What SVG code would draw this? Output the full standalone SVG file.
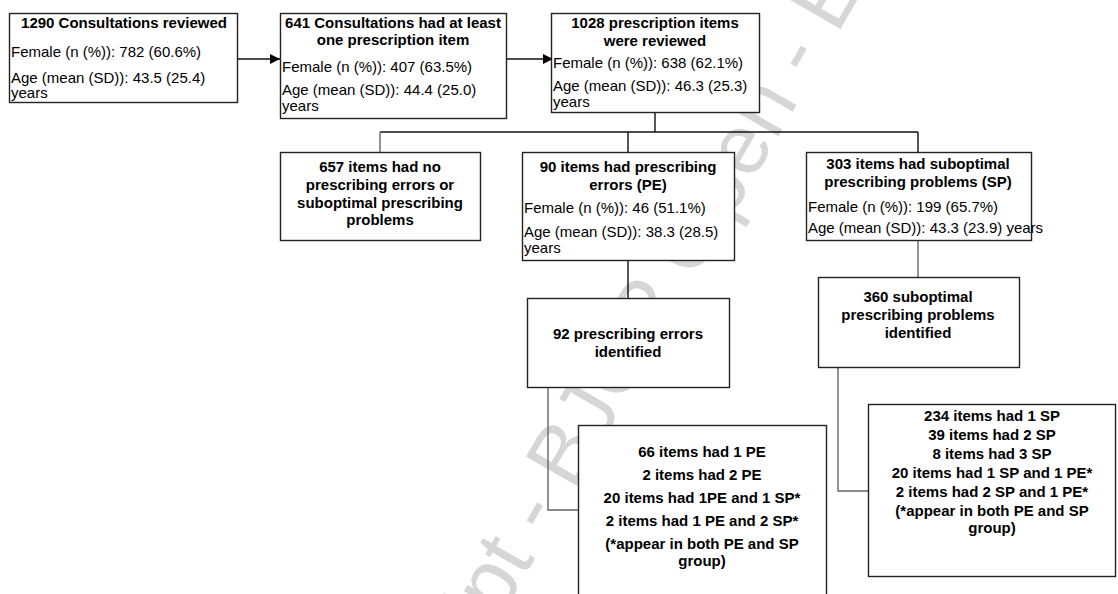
<svg xmlns="http://www.w3.org/2000/svg" width="1118" height="594" viewBox="0 0 1118 594">
<defs>
<marker id="arr" viewBox="0 0 10 10" refX="10" refY="5" markerWidth="10" markerHeight="10" markerUnits="userSpaceOnUse" orient="auto">
<path d="M0,0 L10,5 L0,10 z" fill="#000"/>
</marker>
</defs>
<style>
.box{fill:#fff;stroke:#222;stroke-width:1.4}
.t{font-family:"Liberation Sans",Arial,sans-serif;font-size:15px;fill:#000}
.b{font-weight:bold;text-anchor:middle}
.ln{fill:none;stroke:#111;stroke-width:1.4}
.gl{fill:none;stroke:#666;stroke-width:1.4}
.wm{font-family:"Liberation Sans",Arial,sans-serif;font-size:85px;fill:#d6d6d6}
</style>
<rect width="1118" height="594" fill="#fff"/>
<text class="wm" transform="translate(554 525) rotate(-60)" x="-831" y="0">Accepted Manuscript - BJGP Open - E</text>

<g id="connectors">
<line class="ln" x1="237" y1="59" x2="280" y2="59" marker-end="url(#arr)"/>
<line class="ln" x1="503" y1="59" x2="553" y2="59" marker-end="url(#arr)"/>
<line class="ln" x1="655" y1="113" x2="655" y2="132"/>
<line class="ln" x1="380" y1="132" x2="918" y2="132"/>
<line class="gl" x1="380" y1="132" x2="380" y2="152"/>
<line class="ln" x1="628" y1="132" x2="628" y2="152"/>
<line class="ln" x1="918" y1="132" x2="918" y2="152"/>
<line class="ln" x1="628" y1="261" x2="628" y2="298"/>
<line class="gl" x1="918" y1="240" x2="918" y2="277"/>
<polyline class="gl" points="548,387 548,510 578,510"/>
<polyline class="gl" points="838,367 838,491 868,491"/>
</g>

<g id="n1">
<rect class="box" x="9.5" y="13.5" width="228" height="89"/>
<text class="t b" x="124" y="28">1290 Consultations reviewed</text>
<text class="t" x="11" y="57">Female (n (%)): 782 (60.6%)</text>
<text class="t" x="11" y="83">Age (mean (SD)): 43.5 (25.4)</text>
<text class="t" x="11" y="98">years</text>
</g>

<g id="n2">
<rect class="box" x="280.5" y="13.5" width="226" height="105"/>
<text class="t b" x="393" y="28">641 Consultations had at least</text>
<text class="t b" x="393" y="45">one prescription item</text>
<text class="t" x="282" y="72">Female (n (%)): 407 (63.5%)</text>
<text class="t" x="282" y="95">Age (mean (SD)): 44.4 (25.0)</text>
<text class="t" x="282" y="111">years</text>
</g>

<g id="n3">
<rect class="box" x="551.5" y="13.5" width="208" height="99"/>
<text class="t b" x="655" y="28">1028 prescription items</text>
<text class="t b" x="655" y="46">were reviewed</text>
<text class="t" x="553" y="68">Female (n (%)): 638 (62.1%)</text>
<text class="t" x="553" y="91">Age (mean (SD)): 46.3 (25.3)</text>
<text class="t" x="553" y="107">years</text>
</g>

<g id="n4">
<rect class="box" x="280.5" y="152.5" width="200" height="88"/>
<text class="t b" x="380" y="172">657 items had no</text>
<text class="t b" x="380" y="190">prescribing errors or</text>
<text class="t b" x="380" y="208">suboptimal prescribing</text>
<text class="t b" x="380" y="225">problems</text>
</g>

<g id="n5">
<rect class="box" x="522.5" y="152.5" width="212" height="108"/>
<text class="t b" x="628" y="172">90 items had prescribing</text>
<text class="t b" x="628" y="190">errors (PE)</text>
<text class="t" x="524" y="213">Female (n (%)): 46 (51.1%)</text>
<text class="t" x="524" y="237">Age (mean (SD)): 38.3 (28.5)</text>
<text class="t" x="524" y="253">years</text>
</g>

<g id="n6">
<rect class="box" x="806.5" y="152.5" width="225" height="88"/>
<text class="t b" x="918" y="169">303 items had suboptimal</text>
<text class="t b" x="918" y="187">prescribing problems (SP)</text>
<text class="t" x="808" y="212">Female (n (%)): 199 (65.7%)</text>
<text class="t" x="808" y="233">Age (mean (SD)): 43.3 (23.9) years</text>
</g>

<g id="n7">
<rect class="box" x="527.5" y="298.5" width="202" height="89"/>
<text class="t b" x="628" y="339">92 prescribing errors</text>
<text class="t b" x="628" y="357">identified</text>
</g>

<g id="n8">
<rect class="box" x="818.5" y="277.5" width="201" height="90"/>
<text class="t b" x="918" y="302">360 suboptimal</text>
<text class="t b" x="918" y="320">prescribing problems</text>
<text class="t b" x="918" y="338">identified</text>
</g>

<g id="n9">
<rect class="box" x="578.5" y="425.5" width="248" height="175"/>
<text class="t b" x="702" y="457">66 items had 1 PE</text>
<text class="t b" x="702" y="480">2 items had 2 PE</text>
<text class="t b" x="702" y="503">20 items had 1PE and 1 SP*</text>
<text class="t b" x="702" y="526">2 items had 1 PE and 2 SP*</text>
<text class="t b" x="702" y="549">(*appear in both PE and SP</text>
<text class="t b" x="702" y="566">group)</text>
</g>

<g id="n10">
<rect class="box" x="868.5" y="404.5" width="247" height="172"/>
<text class="t b" x="992" y="421">234 items had 1 SP</text>
<text class="t b" x="992" y="440">39 items had 2 SP</text>
<text class="t b" x="992" y="459">8 items had 3 SP</text>
<text class="t b" x="992" y="478">20 items had 1 SP and 1 PE*</text>
<text class="t b" x="992" y="497">2 items had 2 SP and 1 PE*</text>
<text class="t b" x="992" y="516">(*appear in both PE and SP</text>
<text class="t b" x="992" y="533">group)</text>
</g>
</svg>
